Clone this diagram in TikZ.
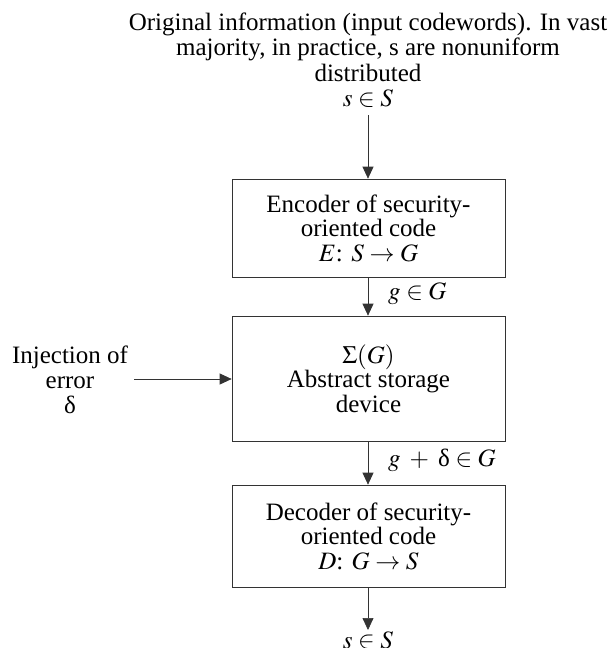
\documentclass[tikz,border=0pt]{standalone}
\usepackage{mathptmx}
\usepackage{fontspec}
\setmainfont{Liberation Serif}
\usetikzlibrary{arrows.meta}
\newcommand{\updelta}{\mbox{δ}}
\tikzset{
  box/.style={draw=black!80, line width=0.7pt, align=center, inner sep=0pt,
    minimum width=273},
  lbl/.style={align=center, inner sep=1pt},
  arr/.style={-{Triangle[length=12pt,width=11pt]}, line width=0.7pt, draw=black!80, fill=black},
}
\begin{document}
\begin{tikzpicture}[x=1pt, y=-1pt, font=\fontsize{25}{24.5}\selectfont]
		\useasboundingbox (0,0) rectangle (611,648);
		% source words
		\node[lbl, font=\fontsize{25}{25.5}\selectfont] (info) at (368,47) {Original information (input codewords). In vast\\majority, in practice, s are nonuniform\\distributed};
		\node[lbl] (sin) at (368,99) {$s \in S$};
		% the three blocks
		\node[box, minimum height=98] (enc) at (368.5,228) {Encoder of security-\\oriented code\\$E$: $S \to G$};
		\node[box, minimum height=125] (dev) at (368.5,378.5) {$\Sigma(G)$\\Abstract storage\\device};
		\node[box, minimum height=102] (dec) at (368.5,536) {Decoder of security-\\oriented code\\$D$: $G \to S$};
		% error injected from the left
		\node[lbl, font=\fontsize{25}{25}\selectfont] (err) at (70,380) {Injection of\\error\\\updelta};
		\coordinate (errend) at (134,379);
		\coordinate (sin2) at (368,115);
		\coordinate (sout) at (368,630);
		\node[lbl] (sres) at (368,641) {$s \in S$};
		% flow
		\draw[arr] (sin2) -- (sin2 |- enc.north);
		\draw[arr] (enc.south -| sin2) -- (dev.north -| sin2);
		\draw[arr] (dev.south -| sin2) -- (dec.north -| sin2);
		\draw[arr] (dec.south -| sout) -- (sout);
		\draw[arr] (errend) -- (errend -| dev.west);
		\node[lbl, anchor=west] (lg) at (387,294) {$g \in G$};
		\node[lbl, anchor=west] (lgd) at (387,460) {$g \;+\; \updelta \in G$};
\end{tikzpicture}
\end{document}
